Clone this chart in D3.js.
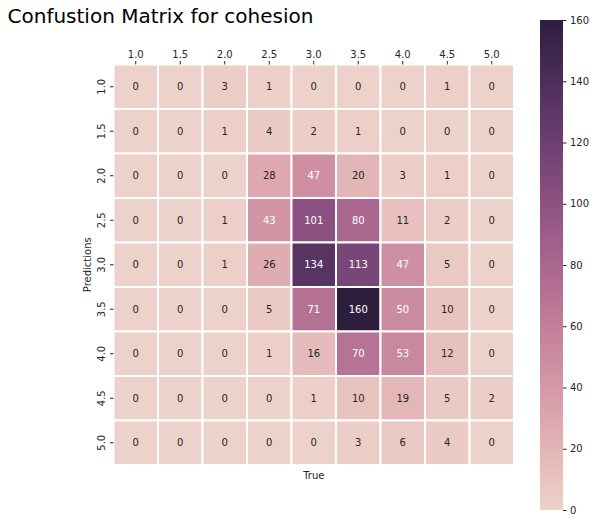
<!DOCTYPE html>
<html><head><meta charset="utf-8">
<script src="https://cdn.jsdelivr.net/npm/d3@7"></script>
<style>body{margin:0;background:#fff;} svg{display:block;font-family:"DejaVu Sans",sans-serif;}</style>
</head><body>
<svg id="chart" width="597" height="523"></svg>
<script>
const labels = ["1.0","1.5","2.0","2.5","3.0","3.5","4.0","4.5","5.0"];
const matrix = [
  [0,0,3,1,0,0,0,1,0],
  [0,0,1,4,2,1,0,0,0],
  [0,0,0,28,47,20,3,1,0],
  [0,0,1,43,101,80,11,2,0],
  [0,0,1,26,134,113,47,5,0],
  [0,0,0,5,71,160,50,10,0],
  [0,0,0,1,16,70,53,12,0],
  [0,0,0,0,1,10,19,5,2],
  [0,0,0,0,0,3,6,4,0]
];
const colorbarTicks = [0,20,40,60,80,100,120,140,160];
const chartTitle = "Confustion Matrix for cohesion";

// seaborn cubehelix_palette(as_cmap=True)
function cubehelix(x){
  const start=0, rot=0.4, gamma=1.0, hue=0.8;
  const xg = Math.pow(x, gamma);
  const a = hue*xg*(1-xg)/2;
  const phi = 2*Math.PI*(start/3 + rot*x);
  const f=(p0,p1)=>Math.max(0,Math.min(1, xg + a*(p0*Math.cos(phi)+p1*Math.sin(phi))));
  return [f(-0.14861,1.78277), f(-0.29227,-0.90649), f(1.97294,0)];
}
const vmin=0, vmax=160;
const tScale = d3.scaleLinear().domain([vmin,vmax]).range([0.85,0.15]).clamp(true);
function rgbOf(v){ return cubehelix(tScale(v)); }
function colorOf(v){ const c=rgbOf(v); return d3.rgb(c[0]*255,c[1]*255,c[2]*255).formatHex(); }
function lum(c){ const l=c.map(u=>u<=0.03928?u/12.92:Math.pow((u+0.055)/1.055,2.4)); return 0.2126*l[0]+0.7152*l[1]+0.0722*l[2]; }

const svg = d3.select("#chart");
const hmLeft=113.5, hmTop=64.5, hmSize=400.5;
const x = d3.scaleBand().domain(labels).range([hmLeft,hmLeft+hmSize]);
const y = d3.scaleBand().domain(labels).range([hmTop,hmTop+hmSize]);

svg.append("text").attr("x",7.5).attr("y",22.7).attr("font-size",20).attr("fill","#000").text(chartTitle);

const cells = [];
matrix.forEach((row,i)=>row.forEach((v,j)=>cells.push({r:labels[i],c:labels[j],v})));
const g = svg.append("g");
g.selectAll("rect").data(cells).enter().append("rect")
  .attr("x",d=>x(d.c)).attr("y",d=>y(d.r)).attr("width",x.bandwidth()).attr("height",y.bandwidth())
  .attr("fill",d=>colorOf(d.v)).attr("stroke","#fff").attr("stroke-width",2);
g.selectAll("text").data(cells).enter().append("text")
  .attr("x",d=>x(d.c)+x.bandwidth()/2).attr("y",d=>y(d.r)+y.bandwidth()/2)
  .attr("text-anchor","middle").attr("dominant-baseline","central").attr("font-size",10)
  .attr("fill",d=>lum(rgbOf(d.v))>0.408?"#262626":"#ffffff").text(d=>d.v);

// top x axis
const xa = svg.append("g").attr("transform",`translate(0,${hmTop})`).call(d3.axisTop(x).tickSize(3.5).tickPadding(3.5));
xa.select(".domain").remove();
xa.selectAll("text").attr("font-size",10).attr("font-family","DejaVu Sans").attr("fill","#262626");
xa.selectAll("line").attr("stroke","#262626");
// left y axis
const ya = svg.append("g").attr("transform",`translate(${hmLeft},0)`).call(d3.axisLeft(y).tickSize(3.5).tickPadding(3.5));
ya.select(".domain").remove();
ya.selectAll("line").attr("stroke","#262626");
ya.selectAll("text").attr("font-size",10).attr("font-family","DejaVu Sans").attr("fill","#262626")
  .attr("text-anchor","middle").attr("dy",null).attr("x",null)
  .attr("transform","translate(-12,0) rotate(-90)").attr("dominant-baseline","central");

svg.append("text").attr("x",hmLeft+hmSize/2).attr("y",479).attr("text-anchor","middle").attr("font-size",10).attr("fill","#262626").text("True");
svg.append("text").attr("transform",`translate(91,${hmTop+hmSize/2}) rotate(-90)`).attr("text-anchor","middle").attr("font-size",10).attr("fill","#262626").text("Predictions");

// colorbar
const cbx=540, cbw=23, cbTop=20, cbBot=510;
const defs = svg.append("defs");
const grad = defs.append("linearGradient").attr("id","cbg").attr("x1",0).attr("y1",1).attr("x2",0).attr("y2",0);
d3.range(0,101).forEach(k=>{ grad.append("stop").attr("offset",k/100).attr("stop-color",colorOf(vmin+(vmax-vmin)*k/100)); });
svg.append("rect").attr("x",cbx).attr("y",cbTop).attr("width",cbw).attr("height",cbBot-cbTop).attr("fill","url(#cbg)");
const cy = d3.scaleLinear().domain([vmin,vmax]).range([cbBot,cbTop]);
const ca = svg.append("g").attr("transform",`translate(${cbx+cbw},0)`).call(d3.axisRight(cy).tickValues(colorbarTicks).tickSize(3.5).tickPadding(3.5));
ca.select(".domain").remove();
ca.selectAll("line").attr("stroke","#262626");
ca.selectAll("text").attr("font-size",10).attr("font-family","DejaVu Sans").attr("fill","#262626");
</script>
</body></html>
